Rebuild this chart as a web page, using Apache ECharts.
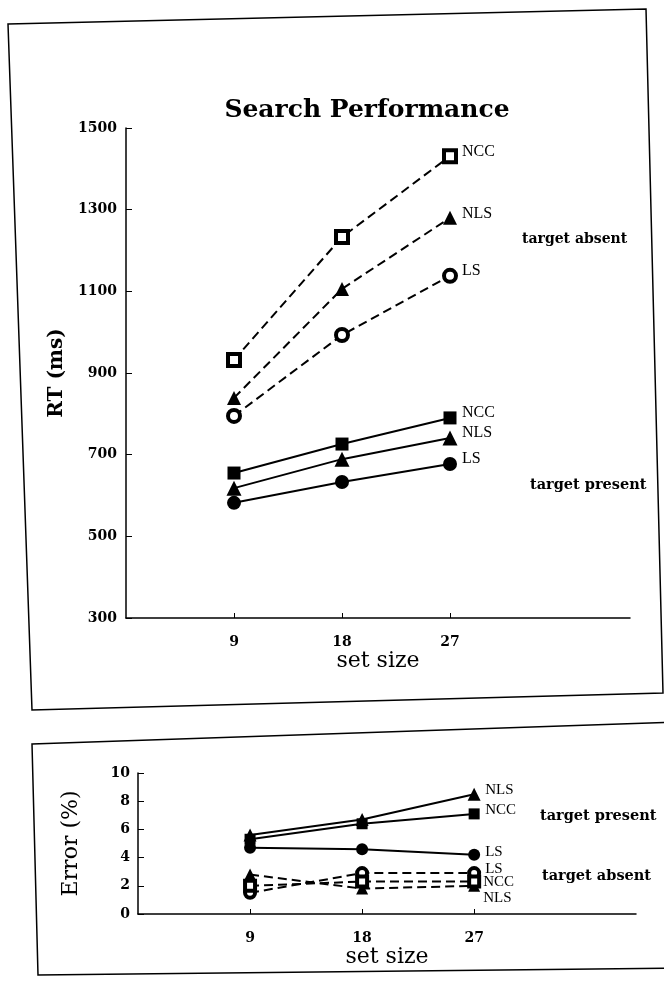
<!DOCTYPE html>
<html>
<head>
<meta charset="utf-8">
<script src="https://cdn.jsdelivr.net/npm/echarts@6/dist/echarts.min.js"></script>
<style>
  html, body { margin: 0; padding: 0; background: #fff; }
  #chart { width: 664px; height: 985px; }
</style>
</head>
<body>
<div id="chart"></div>
<script>
// set size on x, RT / error on y
const setSizes = [9, 18, 27];
const sizeTicks = [9, 18, 27];
const rtTicks = [300, 500, 700, 900, 1100, 1300, 1500];
const errTicks = [0, 2, 4, 6, 8, 10];

// RT (ms), target absent (dashed) / present (solid)
const rtAbsentNCC = [932, 1233, 1431];
const rtAbsentNLS = [839, 1106, 1280];
const rtAbsentLS = [795, 993, 1138];
const rtPresentNCC = [655, 726, 790];
const rtPresentNLS = [618, 689, 741];
const rtPresentLS = [582, 633, 677];

// Error (%)
const errPresentNLS = [5.6, 6.7, 8.5];
const errPresentNCC = [5.3, 6.4, 7.1];
const errPresentLS = [4.7, 4.6, 4.2];
const errAbsentLS = [1.5, 2.9, 2.9];
const errAbsentNCC = [2.0, 2.3, 2.3];
const errAbsentNLS = [2.8, 1.8, 2.0];

const serif = 'DejaVu Serif';
const times = 'Liberation Serif';

function pts(vals) {
  return setSizes.map((s, i) => [s, vals[i]]);
}

// one line series
function mk(label, vals, idx, symbol, open, dashed, size, offset) {
  return {
    type: 'line',
    name: label,
    xAxisIndex: idx,
    yAxisIndex: idx,
    data: pts(vals),
    symbol: symbol,
    symbolSize: size,
    showAllSymbol: true,
    lineStyle: { color: '#000', width: 2, type: dashed ? [9, 5] : 'solid' },
    itemStyle: open
      ? { color: '#fff', borderColor: '#000', borderWidth: 4 }
      : { color: '#000', borderColor: '#000', borderWidth: 0 },
    endLabel: {
      show: true,
      formatter: label,
      fontFamily: times,
      fontSize: idx === 0 ? 16 : 15,
      color: '#000',
      offset: offset
    },
    z: open ? 3 : 2
  };
}

const tickFont = { fontFamily: serif, fontWeight: 'bold', fontSize: 14, color: '#000',
                   formatter: v => String(v) };
const axisLine = { lineStyle: { color: '#000', width: 1.5 } };

const chart = echarts.init(document.getElementById('chart'));
chart.setOption({
  animation: false,
  backgroundColor: '#fff',
  grid: [
    { left: 126, top: 128, width: 504, height: 490 },
    { left: 138, top: 773, width: 498, height: 141 }
  ],
  xAxis: [
    {
      gridIndex: 0, type: 'value', min: 0, max: 42,
      name: 'set size', nameLocation: 'middle', nameGap: 30,
      nameTextStyle: { fontFamily: serif, fontSize: 22, color: '#000' },
      axisLine: axisLine,
      axisTick: { inside: true, length: 5, customValues: sizeTicks, lineStyle: { color: '#000' } },
      axisLabel: Object.assign({ customValues: sizeTicks, margin: 17 }, tickFont),
      splitLine: { show: false }
    },
    {
      gridIndex: 1, type: 'value', min: 0, max: 40,
      name: 'set size', nameLocation: 'middle', nameGap: 32,
      nameTextStyle: { fontFamily: serif, fontSize: 22, color: '#000' },
      axisLine: axisLine,
      axisTick: { inside: true, length: 5, customValues: sizeTicks, lineStyle: { color: '#000' } },
      axisLabel: Object.assign({ customValues: sizeTicks, margin: 17 }, tickFont),
      splitLine: { show: false }
    }
  ],
  yAxis: [
    {
      gridIndex: 0, type: 'value', min: 300, max: 1500,
      name: 'RT (ms)', nameLocation: 'middle', nameGap: 58, nameRotate: 90,
      nameTextStyle: { fontFamily: serif, fontWeight: 'bold', fontSize: 20, color: '#000' },
      axisLine: axisLine,
      axisTick: { inside: true, length: 6, customValues: rtTicks, lineStyle: { color: '#000' } },
      axisLabel: Object.assign({ customValues: rtTicks, margin: 9 }, tickFont),
      splitLine: { show: false }
    },
    {
      gridIndex: 1, type: 'value', min: 0, max: 10,
      name: 'Error (%)', nameLocation: 'middle', nameGap: 56, nameRotate: 90,
      nameTextStyle: { fontFamily: serif, fontSize: 22, color: '#000' },
      axisLine: axisLine,
      axisTick: { inside: true, length: 6, customValues: errTicks, lineStyle: { color: '#000' } },
      axisLabel: Object.assign({ customValues: errTicks, margin: 8 }, tickFont),
      splitLine: { show: false }
    }
  ],
  series: [
    mk('NCC', rtAbsentNCC, 0, 'rect', true, true, 12, [4, -4]),
    mk('NLS', rtAbsentNLS, 0, 'triangle', false, true, 14, [4, -4]),
    mk('LS', rtAbsentLS, 0, 'circle', true, true, 12, [4, -5]),
    mk('NCC', rtPresentNCC, 0, 'rect', false, false, 13, [4, -5]),
    mk('NLS', rtPresentNLS, 0, 'triangle', false, false, 15, [4, -5]),
    mk('LS', rtPresentLS, 0, 'circle', false, false, 14, [4, -5]),
    mk('NLS', errPresentNLS, 1, 'triangle', false, false, 13, [3, -4]),
    mk('NCC', errPresentNCC, 1, 'rect', false, false, 11, [3, -4]),
    mk('LS', errPresentLS, 1, 'circle', false, false, 12, [3, -3]),
    mk('LS', errAbsentLS, 1, 'circle', true, true, 10, [3, -4]),
    mk('NCC', errAbsentNCC, 1, 'rect', true, true, 10, [1, 0]),
    mk('NLS', errAbsentNLS, 1, 'triangle', false, true, 12, [1, 12])
  ],
  graphic: [
    // panel frames (scan is slightly rotated)
    { type: 'polygon', shape: { points: [[8, 24], [646, 9], [663, 693], [32, 710]] },
      style: { fill: 'none', stroke: '#000', lineWidth: 1.5 }, silent: true },
    { type: 'polygon', shape: { points: [[32, 744], [680, 722], [680, 968], [38, 975]] },
      style: { fill: 'none', stroke: '#000', lineWidth: 1.5 }, silent: true },
    { type: 'text', x: 367, y: 98,
      style: { text: 'Search Performance', fontFamily: serif, fontWeight: 'bold', fontSize: 25,
               fill: '#000', textAlign: 'center' } },
    { type: 'text', x: 522, y: 232,
      style: { text: 'target absent', fontFamily: serif, fontWeight: 'bold', fontSize: 14, fill: '#000' } },
    { type: 'text', x: 530, y: 478,
      style: { text: 'target present', fontFamily: serif, fontWeight: 'bold', fontSize: 14.5, fill: '#000' } },
    { type: 'text', x: 540, y: 809,
      style: { text: 'target present', fontFamily: serif, fontWeight: 'bold', fontSize: 14.5, fill: '#000' } },
    { type: 'text', x: 542, y: 869,
      style: { text: 'target absent', fontFamily: serif, fontWeight: 'bold', fontSize: 14.5, fill: '#000' } }
  ]
});
</script>
</body>
</html>
